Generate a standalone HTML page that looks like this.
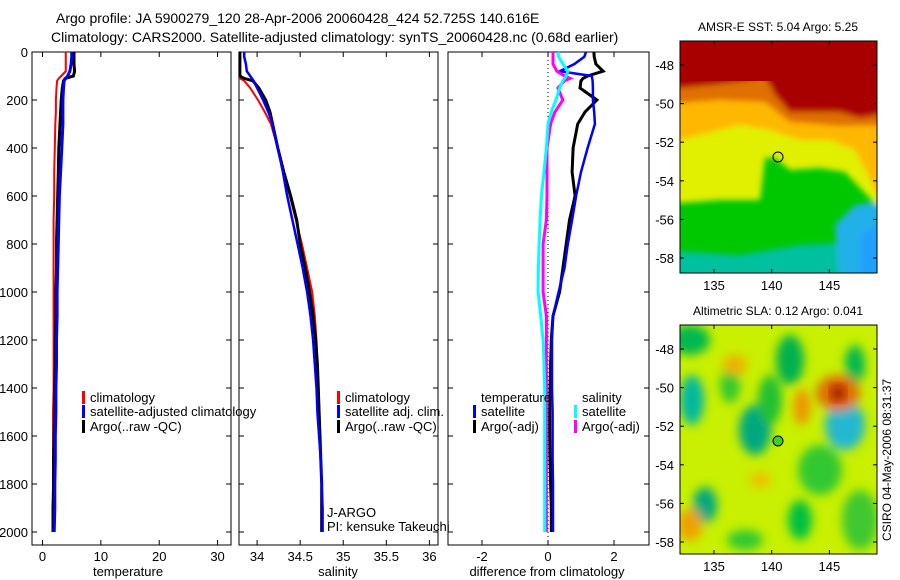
<!DOCTYPE html>
<html><head><meta charset="utf-8"><style>
body{margin:0;background:#fff;}
svg{display:block;font-family:"Liberation Sans",sans-serif;}
text{font-size:13px;fill:#000;}
</style></head><body>
<svg id="fig" width="900" height="580" viewBox="0 0 900 580">
<defs>
<filter id="bl" x="-20%" y="-20%" width="140%" height="140%"><feGaussianBlur stdDeviation="5"/></filter>
<filter id="bl2" x="-20%" y="-20%" width="140%" height="140%"><feGaussianBlur stdDeviation="3"/></filter>
<clipPath id="c1"><rect x="680" y="41" width="197" height="232"/></clipPath>
<clipPath id="c2"><rect x="680" y="325" width="197" height="229"/></clipPath>
</defs>
<text x="56" y="23" style="font-size:14px">Argo profile: JA 5900279_120 28-Apr-2006 20060428_424 52.725S 140.616E</text>
<text x="51" y="42" style="font-size:14px">Climatology: CARS2000. Satellite-adjusted climatology: synTS_20060428.nc (0.68d earlier)</text>

<g clip-path="url(#c1)">
<rect x="680" y="41" width="197" height="232" fill="#00c800"/>
<g filter="url(#bl2)">
<polygon points="660,250 740,255 800,245 890,240 890,290 660,290" fill="#00c0a0"/>
<polygon points="835,225 855,205 890,200 890,290 840,290" fill="#20b0e8"/>
<polygon points="860,235 877,225 890,225 890,290 860,290" fill="#20a0ff"/>
<polygon points="660,20 890,20 890,205 877,205 862,190 845,172 820,168 790,170 775,158 765,158 760,200 720,200 680,203 660,203" fill="#e0f000"/>
<polygon points="660,20 890,20 890,195 877,195 868,175 855,150 830,140 800,140 770,130 740,125 700,135 680,140 660,140" fill="#ffb800"/>
<polygon points="660,20 890,20 890,125 840,126 790,122 765,102 720,100 680,103 660,103" fill="#e07000"/>
<polygon points="660,20 890,20 890,115 877,115 860,118 840,112 790,112 775,95 770,85 763,76 750,80 720,84 680,88 660,88" fill="#a80000"/>
</g>
<rect x="680" y="41" width="197" height="40" fill="#a80000"/>
</g>
<rect x="680" y="41" width="197" height="232" fill="none" stroke="#000"/>
<circle cx="778" cy="157" r="5" fill="none" stroke="#000"/>
<text x="778" y="31" text-anchor="middle" style="font-size:12px">AMSR-E SST: 5.04 Argo: 5.25</text>

<g clip-path="url(#c2)">
<rect x="680" y="325" width="197" height="229" fill="#c8f000"/>
<g filter="url(#bl)">
<ellipse cx="690" cy="340" rx="20" ry="15" fill="#00b850"/>
<ellipse cx="790" cy="360" rx="14" ry="25" fill="#00b050"/>
<ellipse cx="855" cy="365" rx="10" ry="20" fill="#00b850"/>
<ellipse cx="730" cy="385" rx="10" ry="18" fill="#30c830"/>
<ellipse cx="692" cy="400" rx="12" ry="25" fill="#00b8a0"/>
<ellipse cx="755" cy="430" rx="16" ry="25" fill="#00a880"/>
<ellipse cx="770" cy="400" rx="12" ry="25" fill="#20c030"/>
<ellipse cx="845" cy="425" rx="20" ry="25" fill="#20b8d0"/>
<ellipse cx="820" cy="470" rx="22" ry="25" fill="#30c830"/>
<ellipse cx="705" cy="505" rx="12" ry="18" fill="#00a880"/>
<ellipse cx="800" cy="520" rx="12" ry="20" fill="#00c040"/>
<ellipse cx="745" cy="540" rx="18" ry="10" fill="#30c830"/>
<ellipse cx="860" cy="520" rx="18" ry="30" fill="#40c830"/>
<ellipse cx="735" cy="365" rx="12" ry="10" fill="#f0b000"/>
<ellipse cx="802" cy="407" rx="8" ry="18" fill="#f09000"/>
<ellipse cx="838" cy="393" rx="22" ry="18" fill="#e07000"/>
<ellipse cx="690" cy="525" rx="12" ry="16" fill="#f0a000"/>
<ellipse cx="760" cy="480" rx="10" ry="8" fill="#f0c000"/>
</g>
<ellipse cx="838" cy="393" rx="7" ry="8" fill="#a01000" filter="url(#bl)"/>
</g>
<rect x="680" y="325" width="197" height="229" fill="none" stroke="#000"/>
<circle cx="778" cy="441" r="5" fill="#40d020" stroke="#000"/>
<text x="778" y="315" text-anchor="middle" style="font-size:12px">Altimetric SLA: 0.12 Argo: 0.041</text>
<text transform="translate(891,460) rotate(-90)" text-anchor="middle" style="font-size:12px">CSIRO 04-May-2006 08:31:37</text>
</svg>
<script>
const depths=[0,20,50,80,100,110,120,150,200,250,300,400,500,600,700,800,900,1000,1100,1200,1300,1400,1500,1600,1700,1800,1900,2000];
const tClim=[4.0,4.0,4.0,4.0,3.2,2.8,2.5,2.4,2.3,2.3,2.2,2.1,2.0,2.0,1.9,1.9,1.9,1.9,1.9,1.9,1.9,1.9,1.8,1.8,1.8,1.8,1.8,1.8];
const tSat=[5.0,5.0,4.9,4.7,4.3,4.0,3.7,3.6,3.5,3.5,3.5,3.3,3.1,2.9,2.8,2.7,2.6,2.5,2.5,2.4,2.4,2.3,2.3,2.2,2.2,2.1,2.1,2.0];
const tArgo=[5.4,5.4,5.4,5.5,5.3,3.9,3.6,3.4,3.2,3.1,3.0,2.8,2.7,2.6,2.5,2.4,2.4,2.3,2.3,2.2,2.2,2.1,2.1,2.0,1.9,1.9,1.8,1.8];
const sClim=[33.8,33.8,33.8,33.8,33.8,33.8,33.85,33.92,34.01,34.09,34.16,34.24,34.31,34.38,34.45,34.52,34.58,34.64,34.67,34.69,34.70,34.71,34.72,34.73,34.74,34.75,34.75,34.75];
const sSat=[33.85,33.85,33.87,33.88,33.92,33.94,33.96,34.0,34.07,34.13,34.18,34.24,34.3,34.35,34.41,34.47,34.53,34.58,34.62,34.65,34.67,34.69,34.70,34.72,34.74,34.75,34.76,34.76];
const sArgo=[33.8,33.8,33.8,33.8,33.8,33.85,33.95,34.02,34.1,34.15,34.18,34.24,34.31,34.39,34.46,34.5,34.56,34.61,34.65,34.68,34.70,34.71,34.72,34.73,34.74,34.75,34.75,34.75];
const dTSat=[1.15,1.1,0.8,0.36,1.33,1.34,1.35,1.36,1.36,1.4,1.42,1.2,1.0,0.85,0.73,0.6,0.5,0.32,0.15,0.12,0.12,0.12,0.14,0.14,0.14,0.15,0.15,0.15];
const dTArgo=[1.39,1.4,1.45,1.67,1.2,1.06,1.0,0.97,1.48,1.12,0.9,0.76,0.73,0.82,0.65,0.55,0.45,0.35,0.15,0.1,0.08,0.06,0.05,0.05,0.06,0.08,0.1,0.1];
const dSSat=[0.3,0.32,0.45,0.6,0.55,0.5,0.45,0.35,0.24,0.1,0.0,-0.05,-0.12,-0.2,-0.24,-0.27,-0.29,-0.3,-0.22,-0.15,-0.12,-0.1,-0.1,-0.1,-0.1,-0.1,-0.1,-0.1];
const dSArgo=[0.15,0.15,0.15,0.27,0.5,0.67,0.5,0.3,0.45,0.21,0.08,-0.03,-0.03,-0.03,-0.05,-0.15,-0.15,-0.15,-0.05,-0.05,-0.05,-0.05,-0.05,-0.05,-0.05,-0.05,-0.05,-0.05];
const depthTicks=[0,200,400,600,800,1000,1200,1400,1600,1800,2000];
const tTicks=[0,10,20,30];
const sTicks=["34","34.5","35","35.5","36"];
const dTicks=[-2,0,2];
const latTicks=[-48,-50,-52,-54,-56,-58];
const lonTicks=[135,140,145];

const NS='http://www.w3.org/2000/svg';
const svg=document.getElementById('fig');
function mk(tag,at,parent){const e=document.createElementNS(NS,tag);for(const k in at)e.setAttribute(k,at[k]);(parent||svg).appendChild(e);return e;}
const Y0=52,Y1=545;
function yD(d){return 52+d*0.24;}
const panels=[
 {x0:32,x1:231,v0:-1.8,v1:32.3,name:'temperature'},
 {x0:239,x1:438,v0:33.79,v1:36.1,name:'salinity'},
 {x0:448,x1:649,v0:-3.03,v1:3.06,name:'difference'}];
function sx(p,v){return p.x0+(v-p.v0)/(p.v1-p.v0)*(p.x1-p.x0);}
function line(p,vals,color,w,name){
  let pts=[];for(let i=0;i<depths.length;i++){pts.push(sx(p,vals[i]).toFixed(1)+','+yD(depths[i]).toFixed(1));}
  const l=mk('polyline',{points:pts.join(' '),fill:'none',stroke:color,'stroke-width':w,'stroke-linejoin':'miter'});
  
  
}
panels.forEach((p,pi)=>{
  const r=mk('rect',{x:p.x0,y:Y0,width:p.x1-p.x0,height:Y1-Y0,fill:'none',stroke:'#000'});
  
  
  depthTicks.forEach(d=>{
    const y=yD(d);
    mk('line',{x1:p.x0,x2:p.x0+5,y1:y,y2:y,stroke:'#000'});
    mk('line',{x1:p.x1,x2:p.x1-5,y1:y,y2:y,stroke:'#000'});
    if(pi===0){const t=mk('text',{x:p.x0-4,y:y+5,'text-anchor':'end'});t.textContent=d;
      
      }
  });
  const ticks=pi===0?tTicks:pi===1?sTicks:dTicks;
  ticks.forEach(tv=>{
    const x=sx(p,parseFloat(tv));
    mk('line',{x1:x,x2:x,y1:Y1,y2:Y1-5,stroke:'#000'});
    mk('line',{x1:x,x2:x,y1:Y0,y2:Y0+5,stroke:'#000'});
    const t=mk('text',{x:x,y:Y1+16,'text-anchor':'middle'});t.textContent=tv;
    
    
  });
});
[['temperature',128,'temperature-axis-title'],['salinity',338,'salinity-axis-title'],['difference from climatology',547,'difference-axis-title']].forEach(a=>{
  const t=mk('text',{x:a[1],y:576,'text-anchor':'middle'});t.textContent=a[0];
  
  
});
const z=mk('line',{x1:sx(panels[2],0),x2:sx(panels[2],0),y1:Y0,y2:Y1,stroke:'#000','stroke-dasharray':'1,3'});



line(panels[0],tClim,'#f00',2,'temp-climatology-line');
line(panels[0],tArgo,'#000',3,'temp-argo-line');
line(panels[0],tSat,'#00f',3,'temp-satellite-line');
line(panels[1],sClim,'#f00',2,'sal-climatology-line');
line(panels[1],sArgo,'#000',3,'sal-argo-line');
line(panels[1],sSat,'#00f',2.5,'sal-satellite-line');
line(panels[2],dTArgo,'#000',3,'diff-temp-argo-line');
line(panels[2],dTSat,'#00f',2.5,'diff-temp-satellite-line');
line(panels[2],dSArgo,'#f0f',3,'diff-sal-argo-line');
line(panels[2],dSSat,'#0ff',3,'diff-sal-satellite-line');

function legend(x,y,color,label,name){
  if(color){const b=mk('rect',{x:x,y:y-11,width:3,height:13,fill:color});
    
    }
  const t=mk('text',{x:x+8,y:y});t.textContent=label;
  
  
}
legend(82,402,'#f00','climatology','legend-temp-climatology');
legend(82,416,'#00f','satellite-adjusted climatology','legend-temp-satellite');
legend(82,431,'#000','Argo(..raw -QC)','legend-temp-argo');
legend(337,402,'#f00','climatology','legend-sal-climatology');
legend(337,416,'#00f','satellite adj. clim.','legend-sal-satellite');
legend(337,431,'#000','Argo(..raw -QC)','legend-sal-argo');
legend(473,402,null,'temperature','legend-diff-temperature-header');
legend(473,416,'#00f','satellite','legend-diff-temp-satellite');
legend(473,431,'#000','Argo(-adj)','legend-diff-temp-argo');
legend(574,402,null,'salinity','legend-diff-salinity-header');
legend(574,416,'#0ff','satellite','legend-diff-sal-satellite');
legend(574,431,'#f0f','Argo(-adj)','legend-diff-sal-argo');
const j1=mk('text',{x:327,y:517});j1.textContent='J-ARGO';


const j2=mk('text',{x:327,y:531});j2.textContent='PI: kensuke Takeuchi';



[[41,273,65,258],[325,554,349,542]].forEach((m,mi)=>{
  latTicks.forEach((lat,i)=>{
    const y=m[2]+(m[3]-m[2])*i/5;
    mk('line',{x1:680,x2:684,y1:y,y2:y,stroke:'#000'});
    mk('line',{x1:877,x2:873,y1:y,y2:y,stroke:'#000'});
    const t=mk('text',{x:674,y:y+5,'text-anchor':'end'});t.textContent=lat;
    
    
  });
  lonTicks.forEach(lon=>{
    const x=714+(lon-135)*11.54;
    mk('line',{x1:x,x2:x,y1:m[1],y2:m[1]-4,stroke:'#000'});
    mk('line',{x1:x,x2:x,y1:m[0],y2:m[0]+4,stroke:'#000'});
    const t=mk('text',{x:x,y:m[1]+17,'text-anchor':'middle'});t.textContent=lon;
    
    
  });
});
</script>
</body></html>
